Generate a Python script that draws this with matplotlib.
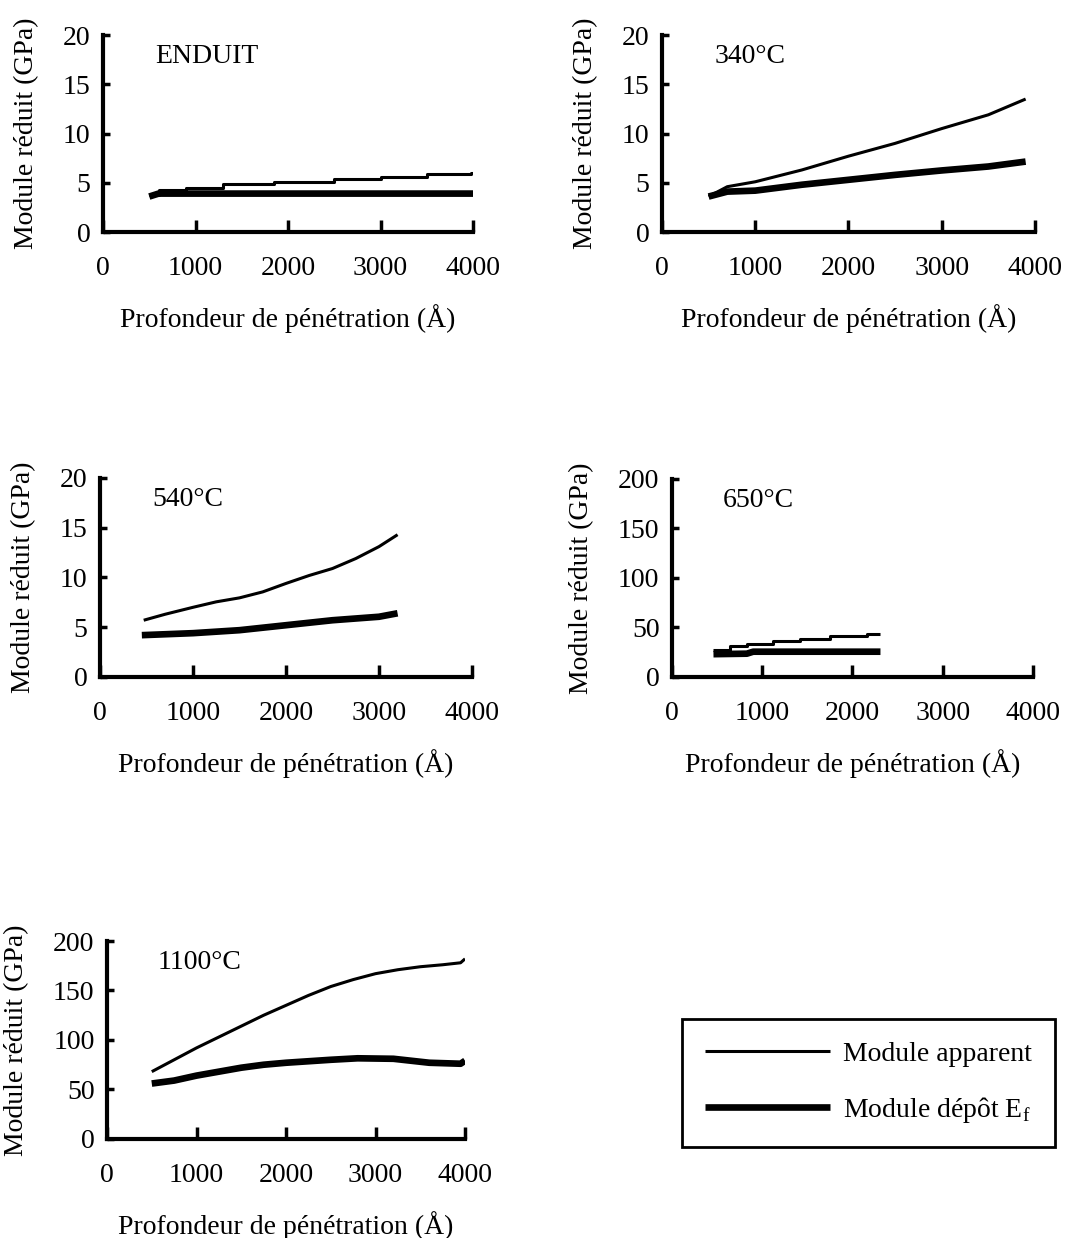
import matplotlib
matplotlib.use("Agg")
import matplotlib.pyplot as plt

plt.rcParams["font.family"] = ["Liberation Serif", "DejaVu Serif"]
plt.rcParams["mathtext.fontset"] = "custom"
plt.rcParams["mathtext.rm"] = "Liberation Serif"
plt.rcParams["font.size"] = 20

# --- data (depth in Å, modulus in GPa) ---
enduit_app_x = [500, 600, 900, 1300, 1850, 2500, 3000, 3500, 3980, 4000]
enduit_app_y = [3.8, 4.3, 4.5, 4.9, 5.1, 5.35, 5.6, 5.85, 6.0, 6.0]
enduit_dep_x = [500, 600, 1000, 2000, 3000, 4000]
enduit_dep_y = [3.6, 3.9, 3.9, 3.9, 3.9, 3.9]

t340_app_x = [500, 700, 1000, 1500, 2000, 2500, 3000, 3500, 3900]
t340_app_y = [3.6, 4.6, 5.1, 6.3, 7.7, 9.0, 10.5, 11.9, 13.5]
t340_dep_x = [500, 700, 1000, 1500, 2000, 2500, 3000, 3500, 3900]
t340_dep_y = [3.6, 4.1, 4.2, 4.8, 5.3, 5.8, 6.25, 6.65, 7.15]

t540_app_x = [470, 700, 1000, 1250, 1500, 1750, 2000, 2250, 2500, 2750,
              3000, 3200]
t540_app_y = [5.7, 6.3, 7.0, 7.55, 7.95, 8.55, 9.4, 10.2, 10.9, 11.9,
              13.1, 14.3]
t540_dep_x = [450, 1000, 1500, 2000, 2500, 3000, 3200]
t540_dep_y = [4.2, 4.4, 4.7, 5.2, 5.7, 6.05, 6.4]

t650_app_x = [460, 640, 830, 1120, 1420, 1750, 2160, 2310]
t650_app_y = [27, 31, 33.5, 36, 38.5, 41, 43.5, 43.5]
t650_dep_x = [460, 830, 900, 1500, 2310]
t650_dep_y = [23, 23.5, 25.5, 25.5, 25.5]

t1100_app_x = [500, 750, 1000, 1250, 1500, 1750, 2000, 2250, 2500, 2750,
               3000, 3250, 3500, 3750, 3950, 4000]
t1100_app_y = [68, 80, 92, 103, 114, 125, 135, 145, 154, 161,
               167, 171, 174, 176, 178, 182]
t1100_dep_x = [500, 750, 1000, 1250, 1500, 1750, 2000, 2500, 2800, 3200,
               3600, 3950, 4000]
t1100_dep_y = [56, 59, 64, 68, 72, 75, 77, 80, 81.5, 81, 77, 76, 79]

panels = [
    # (label, app_x, app_y, dep_x, dep_y, ymax, step, rect, app_steps)
    ("ENDUIT", enduit_app_x, enduit_app_y, enduit_dep_x, enduit_dep_y, 20, 5,
     (0.0953, 0.8126, 0.3423, 0.1591), True),
    ("340°C", t340_app_x, t340_app_y, t340_dep_x, t340_dep_y, 20, 5,
     (0.6124, 0.8126, 0.3450, 0.1591), False),
    ("540°C", t540_app_x, t540_app_y, t540_dep_x, t540_dep_y, 20, 5,
     (0.0925, 0.4532, 0.3441, 0.1607), False),
    ("650°C", t650_app_x, t650_app_y, t650_dep_x, t650_dep_y, 200, 50,
     (0.6216, 0.4532, 0.3340, 0.1599), True),
    ("1100°C", t1100_app_x, t1100_app_y, t1100_dep_x, t1100_dep_y, 200, 50,
     (0.0990, 0.0800, 0.3312, 0.1599), False),
]

fig = plt.figure(figsize=(10.81, 12.38), dpi=100)

handles = None
for name, ax_, ay_, dx_, dy_, ymax, step, rect, stepped in panels:
    ax = fig.add_axes(rect)
    ds = "steps-post" if stepped else "default"
    l1, = ax.plot(ax_, ay_, color="black", lw=2.2, drawstyle=ds,
                  solid_capstyle="butt")
    l2, = ax.plot(dx_, dy_, color="black", lw=4.8, solid_capstyle="butt")
    handles = (l1, l2)
    ax.set_xlim(0, 4000)
    ax.set_ylim(0, ymax)
    ax.set_xticks([0, 1000, 2000, 3000, 4000])
    ax.set_yticks(list(range(0, ymax + 1, step)))
    ax.spines[["top", "right"]].set_visible(False)
    for s in ("left", "bottom"):
        ax.spines[s].set_linewidth(3)
    ax.tick_params(axis="x", direction="in", length=9, width=2.5, pad=17)
    ax.tick_params(axis="y", direction="in", length=5, width=2.5, pad=9)
    ax.set_xlabel("Profondeur de pénétration (Å)", labelpad=17)
    ax.set_ylabel("Module réduit (GPa)", labelpad=17)
    ax.text(0.14, 0.89, name, transform=ax.transAxes, va="center", ha="left")

leg = fig.legend(handles, ["Module apparent", r"Module dépôt E$_\mathrm{f}$"],
                 loc="center", bbox_to_anchor=(0.8034, 0.1252),
                 frameon=True, fancybox=False, edgecolor="black", framealpha=1,
                 handlelength=4.5, handletextpad=0.5, labelspacing=1.0,
                 borderpad=0.8)
leg.get_frame().set_linewidth(2)

fig.savefig("out.png", dpi=100)
